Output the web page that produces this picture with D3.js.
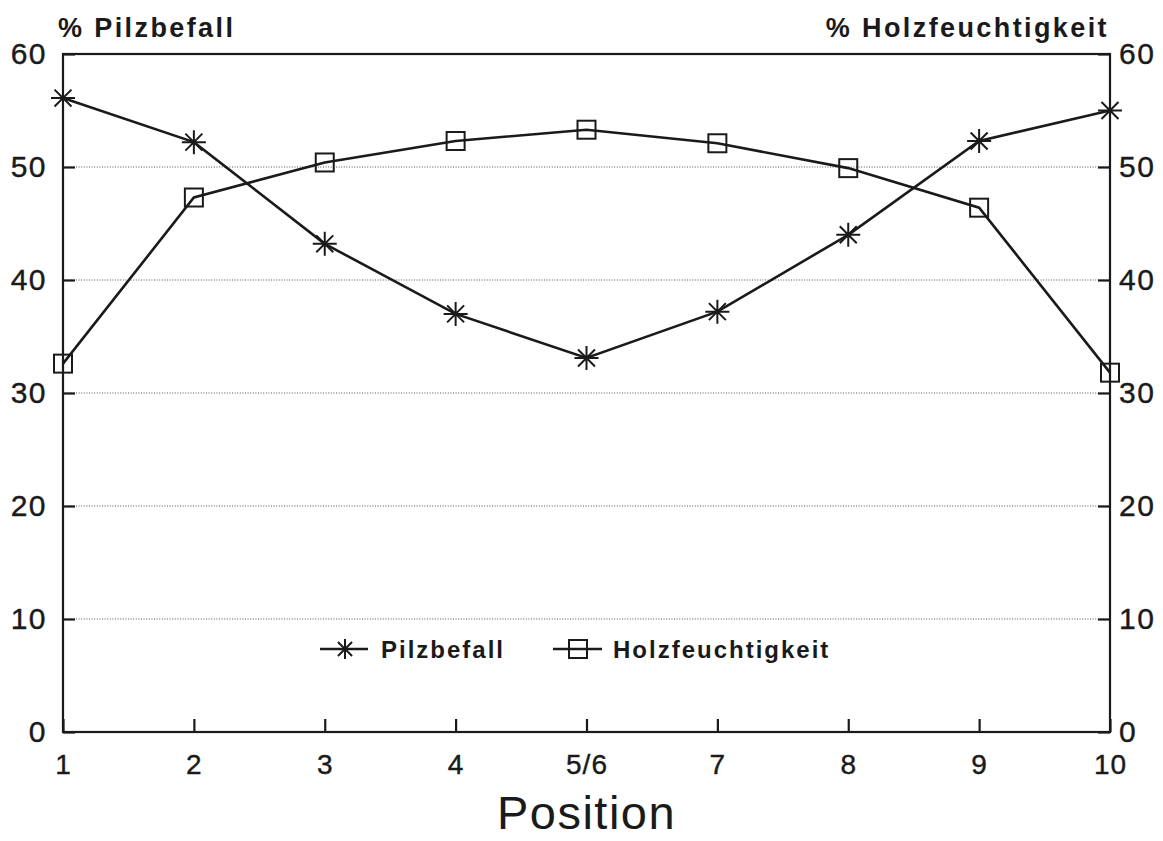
<!DOCTYPE html>
<html>
<head>
<meta charset="utf-8">
<script src="https://cdn.jsdelivr.net/npm/d3@7"></script>
<style>
  html, body { margin: 0; padding: 0; background: #fff; }
  svg { display: block; font-family: "Liberation Sans", Arial, sans-serif; }
</style>
</head>
<body>
<div id="chart"></div>
<script>
// Data
const positions = ['1', '2', '3', '4', '5/6', '7', '8', '9', '10'];
const pilzbefall = [56.1, 52.2, 43.2, 37.0, 33.1, 37.2, 44.0, 52.3, 55.0];
const holzfeuchtigkeit = [32.6, 47.3, 50.4, 52.3, 53.3, 52.1, 49.9, 46.4, 31.8];
const yTicks = [0, 10, 20, 30, 40, 50, 60];
const gridTicks = [10, 20, 30, 40, 50];

const width = 1163, height = 841;
const ink = '#1a1a1a';

const svg = d3.select('#chart')
  .append('svg')
  .attr('width', width)
  .attr('height', height);

// Plot box
const plotLeft = 63, plotRight = 1110, plotTop = 54, plotBottom = 732;

const x = d3.scalePoint().domain(positions).range([plotLeft, plotRight]).padding(0);
const y = d3.scaleLinear().domain([0, 60]).range([plotBottom, plotTop]);

// Dotted gridlines
svg.append('g')
  .selectAll('line')
  .data(gridTicks)
  .join('line')
  .attr('x1', plotLeft)
  .attr('x2', plotRight)
  .attr('y1', d => y(d))
  .attr('y2', d => y(d))
  .attr('stroke', '#555')
  .attr('stroke-width', 1)
  .attr('stroke-dasharray', '1,1.6');

// Frame
svg.append('rect')
  .attr('x', plotLeft)
  .attr('y', plotTop)
  .attr('width', plotRight - plotLeft)
  .attr('height', plotBottom - plotTop)
  .attr('fill', 'none')
  .attr('stroke', ink)
  .attr('stroke-width', 2.2);

// Axes with inward ticks
function styleAxis(g, size, spacing) {
  g.select('.domain').remove();
  g.selectAll('.tick line').attr('stroke', ink).attr('stroke-width', 2.2);
  g.selectAll('.tick text')
    .attr('fill', ink)
    .attr('stroke', ink)
    .attr('stroke-width', 0.4)
    .style('font-size', size + 'px')
    .style('letter-spacing', spacing + 'px');
}

svg.append('g')
  .attr('transform', `translate(${plotLeft},0)`)
  .call(d3.axisLeft(y).tickValues(yTicks).tickSize(-12).tickSizeOuter(0).tickPadding(16))
  .call(g => styleAxis(g, 30, 1.5));

svg.append('g')
  .attr('transform', `translate(${plotRight},0)`)
  .call(d3.axisRight(y).tickValues(yTicks).tickSize(-12).tickSizeOuter(0).tickPadding(9))
  .call(g => styleAxis(g, 30, 1.5));

svg.append('g')
  .attr('transform', `translate(0,${plotBottom})`)
  .call(d3.axisBottom(x).tickSize(-13).tickSizeOuter(0).tickPadding(22))
  .call(g => styleAxis(g, 28, 1));

// Lines
const line = d3.line()
  .x((d, i) => x(positions[i]))
  .y(d => y(d));

svg.append('path')
  .datum(pilzbefall)
  .attr('d', line)
  .attr('fill', 'none')
  .attr('stroke', ink)
  .attr('stroke-width', 2.6);

svg.append('path')
  .datum(holzfeuchtigkeit)
  .attr('d', line)
  .attr('fill', 'none')
  .attr('stroke', ink)
  .attr('stroke-width', 2.6);

// Markers
const starPath = (r) => {
  const d = r * Math.SQRT1_2;
  return `M${-r},0L${r},0M0,${-r}L0,${r}M${-d},${-d}L${d},${d}M${-d},${d}L${d},${-d}`;
};

svg.append('g')
  .selectAll('path')
  .data(pilzbefall)
  .join('path')
  .attr('transform', (d, i) => `translate(${x(positions[i])},${y(d)})`)
  .attr('d', starPath(12))
  .attr('fill', 'none')
  .attr('stroke', ink)
  .attr('stroke-width', 2);

const sq = 18;
svg.append('g')
  .selectAll('rect')
  .data(holzfeuchtigkeit)
  .join('rect')
  .attr('x', (d, i) => x(positions[i]) - sq / 2)
  .attr('y', d => y(d) - sq / 2)
  .attr('width', sq)
  .attr('height', sq)
  .attr('fill', 'none')
  .attr('stroke', ink)
  .attr('stroke-width', 2);

// Axis titles
svg.append('text')
  .attr('x', 58)
  .attr('y', 37)
  .attr('fill', ink)
  .style('font-size', '27px')
  .style('font-weight', 'bold')
  .style('letter-spacing', '2.4px')
  .text('% Pilzbefall');

svg.append('text')
  .attr('x', 1109)
  .attr('y', 37)
  .attr('text-anchor', 'end')
  .attr('fill', ink)
  .style('font-size', '27px')
  .style('font-weight', 'bold')
  .style('letter-spacing', '2.4px')
  .text('% Holzfeuchtigkeit');

svg.append('text')
  .attr('x', (plotLeft + plotRight) / 2)
  .attr('y', 829)
  .attr('text-anchor', 'middle')
  .attr('fill', ink)
  .style('font-size', '47px')
  .style('letter-spacing', '1.5px')
  .text('Position');

// Legend
const legendY = 649;
const legend = svg.append('g');

legend.append('line')
  .attr('x1', 320).attr('x2', 368)
  .attr('y1', legendY).attr('y2', legendY)
  .attr('stroke', ink).attr('stroke-width', 2.6);
legend.append('path')
  .attr('transform', `translate(345,${legendY})`)
  .attr('d', starPath(10))
  .attr('fill', 'none')
  .attr('stroke', ink)
  .attr('stroke-width', 2);
legend.append('text')
  .attr('x', 381)
  .attr('y', legendY + 9)
  .attr('fill', ink)
  .style('font-size', '24px')
  .style('font-weight', 'bold')
  .style('letter-spacing', '2px')
  .text('Pilzbefall');

legend.append('line')
  .attr('x1', 553).attr('x2', 602)
  .attr('y1', legendY).attr('y2', legendY)
  .attr('stroke', ink).attr('stroke-width', 2.6);
legend.append('rect')
  .attr('x', 578 - 9).attr('y', legendY - 9)
  .attr('width', 18).attr('height', 18)
  .attr('fill', 'none')
  .attr('stroke', ink)
  .attr('stroke-width', 2);
legend.append('text')
  .attr('x', 613)
  .attr('y', legendY + 9)
  .attr('fill', ink)
  .style('font-size', '24px')
  .style('font-weight', 'bold')
  .style('letter-spacing', '2px')
  .text('Holzfeuchtigkeit');
</script>
</body>
</html>
